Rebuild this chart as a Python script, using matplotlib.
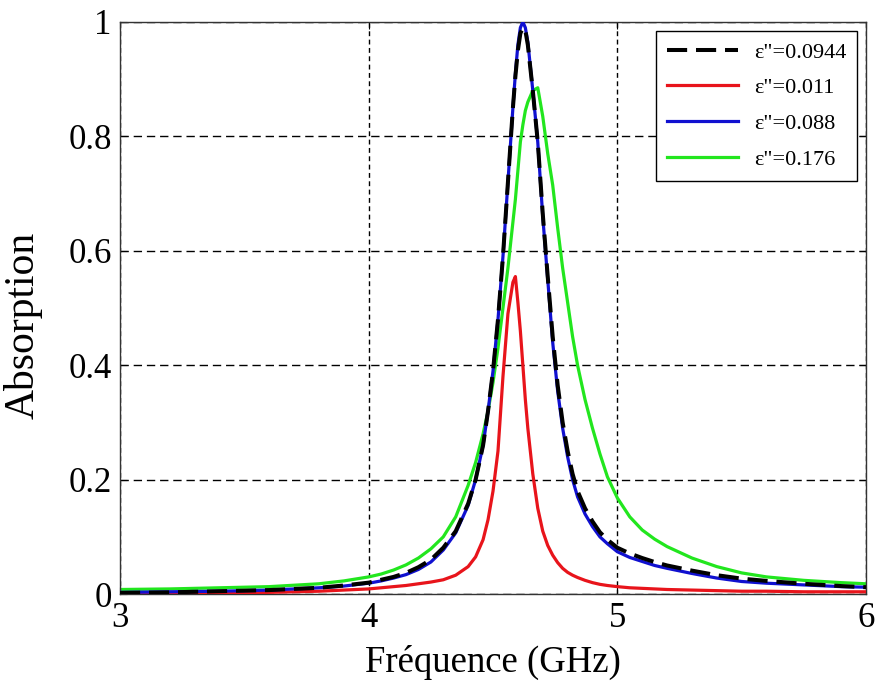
import matplotlib
matplotlib.use("Agg")
import matplotlib.pyplot as plt

freq = [3.0, 3.2, 3.4, 3.6, 3.8, 3.9, 4.0, 4.05, 4.1, 4.15, 4.2, 4.25, 4.3, 4.35, 4.4,
        4.43, 4.46, 4.48, 4.5, 4.52, 4.54, 4.56, 4.58, 4.59, 4.60, 4.61, 4.62, 4.63, 4.64,
        4.66, 4.68, 4.70, 4.72, 4.74, 4.76, 4.78, 4.80, 4.82, 4.84, 4.87, 4.90, 4.93, 4.96,
        5.0, 5.05, 5.1, 5.15, 5.2, 5.3, 5.4, 5.5, 5.6, 5.75, 5.9, 6.0]

eps_0944 = [0.002, 0.003, 0.005, 0.007, 0.011, 0.015, 0.020, 0.025, 0.030, 0.037, 0.047, 0.060, 0.081, 0.110, 0.158,
            0.20, 0.26, 0.32, 0.39, 0.48, 0.59, 0.72, 0.85, 0.905, 0.95, 0.98, 0.99, 0.985, 0.96,
            0.88, 0.79, 0.665, 0.555, 0.45, 0.365, 0.30, 0.25, 0.21, 0.18, 0.15, 0.127, 0.108, 0.095,
            0.081, 0.071, 0.063, 0.056, 0.050, 0.041, 0.033, 0.027, 0.023, 0.018, 0.014, 0.012]

eps_011 = [0.001, 0.002, 0.002, 0.003, 0.005, 0.007, 0.009, 0.011, 0.013, 0.015, 0.018, 0.021, 0.025, 0.033, 0.048,
           0.065, 0.095, 0.13, 0.18, 0.25, 0.38, 0.49, 0.545, 0.555, 0.51, 0.46, 0.40, 0.34, 0.29,
           0.21, 0.15, 0.11, 0.085, 0.068, 0.055, 0.045, 0.038, 0.033, 0.029, 0.024, 0.020, 0.017, 0.015,
           0.013, 0.011, 0.010, 0.009, 0.008, 0.007, 0.006, 0.005, 0.005, 0.004, 0.004, 0.004]

eps_088 = [0.003, 0.004, 0.005, 0.007, 0.011, 0.014, 0.019, 0.023, 0.028, 0.034, 0.043, 0.056, 0.077, 0.107, 0.155,
           0.20, 0.26, 0.32, 0.39, 0.48, 0.59, 0.72, 0.85, 0.91, 0.96, 0.99, 1.0, 0.99, 0.965,
           0.88, 0.79, 0.66, 0.55, 0.44, 0.355, 0.29, 0.24, 0.20, 0.17, 0.14, 0.118, 0.10, 0.088,
           0.074, 0.064, 0.057, 0.050, 0.045, 0.036, 0.028, 0.022, 0.019, 0.016, 0.013, 0.012]

eps_176 = [0.008, 0.009, 0.011, 0.013, 0.018, 0.023, 0.030, 0.035, 0.042, 0.051, 0.063, 0.079, 0.10, 0.135, 0.19,
           0.23, 0.28, 0.32, 0.37, 0.43, 0.50, 0.57, 0.65, 0.69, 0.74, 0.79, 0.82, 0.845, 0.86,
           0.88, 0.885, 0.835, 0.77, 0.715, 0.64, 0.57, 0.51, 0.45, 0.40, 0.34, 0.29, 0.245, 0.205,
           0.168, 0.135, 0.112, 0.096, 0.083, 0.063, 0.048, 0.037, 0.030, 0.024, 0.020, 0.018]

labels = ['ε"=0.0944', 'ε"=0.011', 'ε"=0.088', 'ε"=0.176']
xticks = [3, 4, 5, 6]
yticks = [0, 0.2, 0.4, 0.6, 0.8, 1]
yticklabels = ['0', '0.2', '0.4', '0.6', '0.8', '1']

plt.rcParams['font.family'] = ['Liberation Serif', 'DejaVu Serif']

fig = plt.figure(figsize=(8.76, 6.86), dpi=100)
ax = fig.add_axes([0.137, 0.134, 0.8516, 0.834])

lw = 2.3
ax.plot(freq, eps_0944, color='black', lw=lw + 0.6, linestyle=(0, (5, 2.2)), label=labels[0], zorder=5)
ax.plot(freq, eps_011, color='#e8141b', lw=lw, label=labels[1], zorder=3)
ax.plot(freq, eps_088, color='#1010d0', lw=lw, label=labels[2], zorder=4)
ax.plot(freq, eps_176, color='#22e61e', lw=lw, label=labels[3], zorder=2)

ax.set_xlim(3, 6)
ax.set_ylim(0, 1)
ax.set_xticks(xticks)
ax.set_xticklabels([str(t) for t in xticks])
ax.set_yticks(yticks)
ax.set_yticklabels(yticklabels)
ax.tick_params(direction='in', labelsize=25, top=True, right=True, length=5, pad=6)
ax.xaxis.grid(True, color='black', linestyle=(0, (3.5, 2.5)), linewidth=1.0)
ax.yaxis.grid(True, color='black', linestyle=(0, (6, 3.5)), linewidth=1.0)
for s in ax.spines.values():
    s.set_linewidth(1.0)
    s.set_color('#333333')

ax.set_xlabel('Fréquence (GHz)', fontsize=26.5)
ax.set_ylabel('Absorption', fontsize=30)
ax.xaxis.set_label_coords(0.5, -0.088)
ax.yaxis.set_label_coords(-0.104, 0.47)

leg = ax.legend(loc='upper right', prop={'family': ['Liberation Serif', 'DejaVu Serif'], 'size': 16},
                fancybox=False, framealpha=1, edgecolor='black', handlelength=3.2,
                borderaxespad=0.4, labelspacing=0.68, borderpad=0.5, handletextpad=0.7)
leg.get_frame().set_linewidth(1.0)

fig.savefig('out.png', dpi=100)
